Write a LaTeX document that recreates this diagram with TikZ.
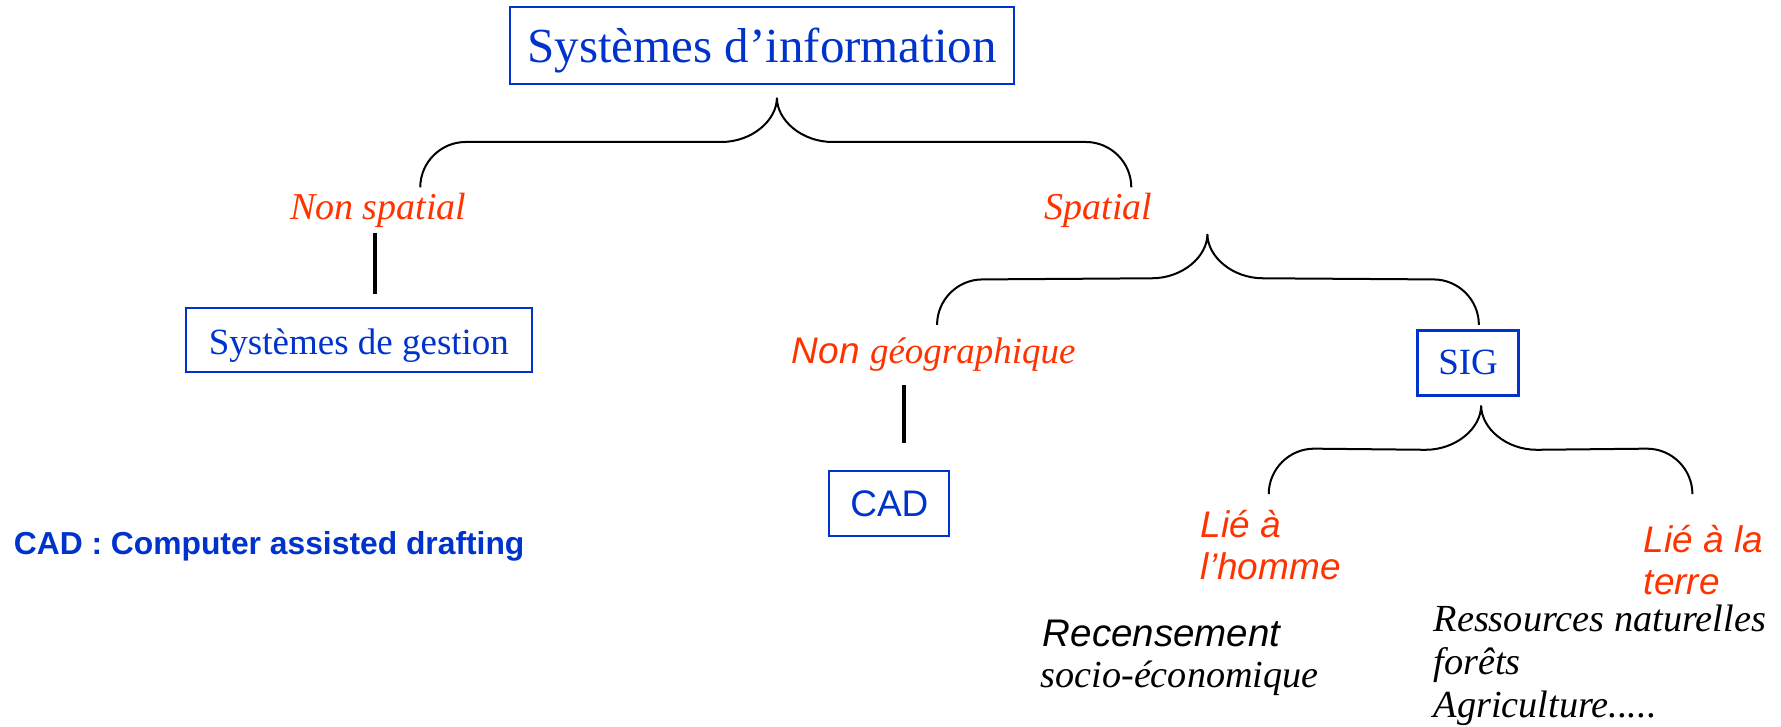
\documentclass[tikz,border=0pt]{standalone}
\usepackage{fontspec}
\setmainfont{Liberation Serif}
\setsansfont{Liberation Sans}
\usetikzlibrary{calc}
\definecolor{redt}{RGB}{255,51,0}
\definecolor{bluet}{RGB}{0,51,204}
\newcommand{\bracedraw}[3]{%
  \draw[brace] (#1) .. controls ($(#1)+(0,-22)$) and ($(#1)+(18,-40)$) .. ($(#1)+(40,-40)$)
    -- ($(#2)+(-49,39)$) .. controls ($(#2)+(-22,39)$) and ($(#2)+(0,20)$) .. (#2)
    .. controls ($(#2)+(0,20)$) and ($(#2)+(22,39)$) .. ($(#2)+(49,39)$)
    -- ($(#3)+(-40,-40)$) .. controls ($(#3)+(-18,-40)$) and ($(#3)+(0,-22)$) .. (#3);}
\begin{document}
\begin{tikzpicture}[x=1.1358pt,y=-1.1358pt,
  box/.style={draw=bluet, line width=2.2pt, inner sep=0pt, text=bluet},
  lbl/.style={inner sep=0pt, text=redt},
  blk/.style={inner sep=0pt, text=black},
  brace/.style={draw=black, line width=2pt},
  stem/.style={draw=black, line width=4pt}]
\path[use as bounding box] (0,0) rectangle (1568,640);
% boxes
\node[box, minimum width=504pt, minimum height=77pt, text height=35pt, text depth=0pt, font=\fontsize{49}{49}\selectfont] (si) at (671,40) {Systèmes d’information};
\node[box, minimum width=346pt, minimum height=64pt, text height=29pt, text depth=0pt, font=\fontsize{37}{37}\selectfont] (sg) at (316,299.5) {Systèmes de gestion};
\node[box, minimum width=120pt, minimum height=65pt, font=\sffamily\fontsize{37}{37}\selectfont] (cad) at (783,443.5) {CAD};
\node[box, minimum width=101pt, minimum height=65pt, font=\fontsize{37}{37}\selectfont] (sig) at (1292.5,319.5) {SIG};
% red labels
\node[lbl, anchor=base, font=\fontsize{38}{38}\selectfont\itshape] (ns) at (333,193) {Non spatial};
\node[lbl, anchor=base, font=\fontsize{38}{38}\selectfont\itshape] (sp) at (967,193) {Spatial};
\node[lbl, anchor=base west, font=\fontsize{37}{37}\selectfont\itshape] (ng) at (697,320) {\sffamily Non \rmfamily géographique};
\node[lbl, anchor=base west, font=\sffamily\fontsize{37}{37}\selectfont\itshape] (lh1) at (1057,473) {Lié à};
\node[lbl, anchor=base west, font=\sffamily\fontsize{37}{37}\selectfont\itshape] (lh2) at (1057,510) {l’homme};
\node[lbl, anchor=base west, font=\sffamily\fontsize{37}{37}\selectfont\itshape] (lt1) at (1447,486) {Lié à la};
\node[lbl, anchor=base west, font=\sffamily\fontsize{37}{37}\selectfont\itshape] (lt2) at (1447,523) {terre};
% black texts
\node[blk, anchor=base west, font=\sffamily\fontsize{38.5}{38.5}\selectfont\itshape] (rc1) at (918,569) {Recensement};
\node[blk, anchor=base west, font=\fontsize{38.2}{38.2}\selectfont\itshape] (rc2) at (916,605) {socio-économique};
\node[blk, anchor=base west, font=\fontsize{38.3}{38.3}\selectfont\itshape] (rn1) at (1262,556) {Ressources naturelles};
\node[blk, anchor=base west, font=\fontsize{38.3}{38.3}\selectfont\itshape] (rn2) at (1262,594) {forêts};
\node[blk, anchor=base west, font=\fontsize{38.3}{38.3}\selectfont\itshape] (rn3) at (1262,632) {Agriculture.....};
% footnote
\node[inner sep=0pt, text=bluet, anchor=base west, font=\sffamily\bfseries\fontsize{31.8}{31.8}\selectfont] (fn) at (12,488) {CAD : Computer assisted drafting};
% stems
\coordinate (s1a) at (330,205); \coordinate (s1b) at (330,259);
\coordinate (s2a) at (796,339); \coordinate (s2b) at (796,390);
\draw[stem] (s1a) -- (s1b);
\draw[stem] (s2a) -- (s2b);
% braces
\coordinate (b1l) at (370,165); \coordinate (b1t) at (684,86); \coordinate (b1r) at (996,165);
\coordinate (b2l) at (825,286); \coordinate (b2t) at (1063,206); \coordinate (b2r) at (1302,286);
\coordinate (b3l) at (1117,435); \coordinate (b3t) at (1304,357); \coordinate (b3r) at (1490,435);
\bracedraw{b1l}{b1t}{b1r}
\bracedraw{b2l}{b2t}{b2r}
\bracedraw{b3l}{b3t}{b3r}
\end{tikzpicture}
\end{document}
